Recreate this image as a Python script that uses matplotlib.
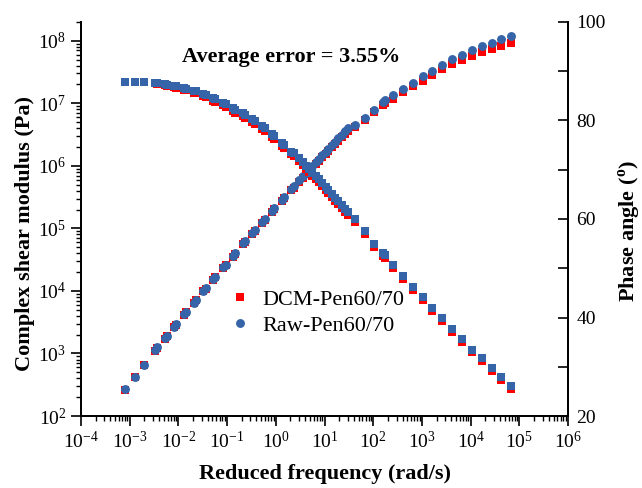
import math
import matplotlib
matplotlib.use("Agg")
import matplotlib.pyplot as plt
from matplotlib.ticker import LogLocator, FixedLocator, MultipleLocator, FuncFormatter, NullFormatter

plt.rcParams["font.family"] = ["Liberation Serif", "DejaVu Serif"]
plt.rcParams["mathtext.fontset"] = "custom"
plt.rcParams["mathtext.rm"] = "Liberation Serif"
plt.rcParams["mathtext.bf"] = "Liberation Serif:bold"

# reduced frequency (rad/s)
freq = [7.9e-4, 1.29e-3, 2.0e-3,
        3.3e-3, 3.7e-3, 5.2e-3, 5.8e-3, 8.3e-3, 9.1e-3, 1.32e-2, 1.45e-2, 2.09e-2, 2.34e-2,
        3.24e-2, 3.63e-2, 5.25e-2, 5.75e-2, 8.3e-2, 9.3e-2,
        0.132, 0.148, 0.209, 0.234, 0.331, 0.372, 0.525, 0.589, 0.832, 0.933, 1.32, 1.48, 2.09, 2.34,
        3.02, 3.55, 4.17, 4.79, 5.62, 6.61, 7.59, 8.91, 10.5, 12.0, 14.1, 16.6, 19.1, 22.4, 26.3, 30.2,
        41.7, 67.6, 105, 162, 178, 257, 407, 646, 1050, 1620, 2570, 4170, 6610, 10500, 17000, 26900,
        42700, 67600]

# complex shear modulus (Pa)
g_raw = [269, 427, 661,
         1122, 1259, 1738, 1905, 2692, 2951, 4266, 4677, 6457, 7244,
         1.00e4, 1.10e4, 1.55e4, 1.70e4, 2.40e4, 2.63e4,
         3.63e4, 4.07e4, 5.75e4, 6.31e4, 8.51e4, 9.55e4, 1.26e5, 1.41e5, 1.91e5, 2.14e5, 2.88e5, 3.16e5,
         4.27e5, 4.68e5,
         5.89e5, 6.76e5, 7.76e5, 8.71e5, 1.00e6, 1.15e6, 1.29e6, 1.48e6, 1.66e6, 1.86e6, 2.14e6, 2.45e6,
         2.75e6, 3.09e6, 3.55e6, 3.98e6,
         4.57e6, 5.89e6, 7.94e6, 1.05e7, 1.12e7, 1.35e7, 1.70e7, 2.14e7, 2.69e7, 3.31e7, 4.17e7, 5.13e7,
         6.03e7, 7.08e7, 8.13e7, 9.33e7, 1.07e8, 1.20e8]
g_dcm = [265, 420, 650,
         1100, 1240, 1710, 1870, 2640, 2900, 4180, 4590, 6330, 7100,
         9800, 1.08e4, 1.52e4, 1.66e4, 2.34e4, 2.57e4,
         3.50e4, 3.93e4, 5.55e4, 6.08e4, 8.20e4, 9.20e4, 1.21e5, 1.35e5, 1.83e5, 2.05e5, 2.75e5, 3.02e5,
         4.07e5, 4.46e5,
         5.60e5, 6.42e5, 7.37e5, 8.25e5, 9.45e5, 1.08e6, 1.21e6, 1.39e6, 1.55e6, 1.73e6, 1.98e6, 2.27e6,
         2.54e6, 2.85e6, 3.26e6, 3.65e6,
         4.18e6, 5.35e6, 7.15e6, 9.35e6, 9.95e6, 1.19e7, 1.49e7, 1.86e7, 2.31e7, 2.82e7, 3.52e7, 4.29e7,
         4.98e7, 5.76e7, 6.53e7, 7.40e7, 8.40e7, 9.25e7]

# phase angle (deg)
ph_raw = [87.8, 87.8, 87.8,
          87.7, 87.6, 87.4, 87.3, 87.0, 86.9, 86.5, 86.4, 86.0, 85.9,
          85.4, 85.2, 84.5, 84.3, 83.6, 83.3,
          82.5, 82.2, 81.5, 81.1, 80.2, 79.9, 78.9, 78.5, 77.2, 76.8, 75.5, 75.1, 73.7, 73.3,
          72.4, 71.6, 70.8, 70.2, 69.4, 68.8, 68.1, 67.3, 66.5, 65.8, 65.0, 64.3, 63.6, 62.9, 62.1, 61.5,
          60.0, 57.6, 55.0, 53.0, 52.6, 50.6, 48.4, 46.2, 44.1, 42.0, 39.8, 37.6, 35.6, 33.5, 31.7, 29.8,
          28.0, 26.1]
ph_dcm = [87.8, 87.8, 87.8,
          87.6, 87.5, 87.2, 87.1, 86.7, 86.6, 86.2, 86.1, 85.6, 85.5,
          85.0, 84.8, 84.0, 83.8, 83.1, 82.8,
          81.9, 81.6, 80.9, 80.5, 79.6, 79.3, 78.3, 77.9, 76.6, 76.2, 74.9, 74.5, 73.1, 72.7,
          71.8, 71.0, 70.2, 69.6, 68.8, 68.2, 67.5, 66.7, 65.9, 65.2, 64.4, 63.7, 63.0, 62.3, 61.5, 60.9,
          59.4, 57.0, 54.4, 52.4, 52.0, 50.0, 47.8, 45.6, 43.5, 41.4, 39.2, 37.0, 35.0, 32.9, 31.1, 29.2,
          27.4, 25.5]

RED = "#ff0000"
BLUE = "#3565a8"

fig = plt.figure(figsize=(6.42, 4.88), dpi=100)
ax = fig.add_axes([0.126, 0.1475, 0.759, 0.8075])
ax2 = ax.twinx()

ax.plot(freq, g_dcm, "s", color=RED, ms=5.8, mew=0, label="DCM-Pen60/70")
ax.plot(freq, g_raw, "o", color=BLUE, ms=6.4, mew=0, label="Raw-Pen60/70")
ax2.plot(freq, ph_dcm, "s", color=RED, ms=5.8, mew=0)
ax2.plot(freq, ph_raw, "s", color=BLUE, ms=5.8, mew=0)

ax.set_xscale("log")
ax.set_yscale("log")
ax.set_xlim(1e-4, 1e6)
ax.set_ylim(1e2, 2e8)
ax2.set_ylim(20, 100)


def pow_fmt(v, pos):
    e = int(round(math.log10(v)))
    return r"$\mathrm{10^{%d}}$" % e


ax.xaxis.set_major_locator(FixedLocator([10.0 ** k for k in range(-4, 7)]))
ax.xaxis.set_major_formatter(FuncFormatter(pow_fmt))
ax.xaxis.set_minor_locator(LogLocator(base=10, subs=range(2, 10), numticks=20))
ax.xaxis.set_minor_formatter(NullFormatter())
ax.yaxis.set_major_locator(FixedLocator([10.0 ** k for k in range(2, 9)]))
ax.yaxis.set_major_formatter(FuncFormatter(pow_fmt))
ax.yaxis.set_minor_locator(LogLocator(base=10, subs=range(2, 10), numticks=20))
ax.yaxis.set_minor_formatter(NullFormatter())

ax2.yaxis.set_major_locator(MultipleLocator(20))
ax2.yaxis.set_minor_locator(MultipleLocator(10))

for a in (ax, ax2):
    a.spines["top"].set_visible(False)
    for s in a.spines.values():
        s.set_linewidth(1.3)

ax.tick_params(which="major", direction="out", length=7, width=1.2, labelsize=14)
ax.tick_params(which="minor", direction="out", length=3.5, width=1.0)
ax.tick_params(axis="y", right=False)
ax2.tick_params(which="major", direction="in", length=7, width=1.2, labelsize=14, pad=6)
ax2.tick_params(which="minor", direction="in", length=7, width=1.2)

# axis titles
ax.text(0.50, -0.147, "Reduced frequency (rad/s)", transform=ax.transAxes,
        ha="center", va="center", fontsize=16, fontweight="bold")
ax.text(-0.115, 0.462, "Complex shear modulus (Pa)", transform=ax.transAxes, rotation=90,
        ha="center", va="center", fontsize=16, fontweight="bold")
ax.text(1.127, 0.47, r"Phase angle ($^\mathbf{o}$)", transform=ax.transAxes, rotation=90,
        ha="center", va="center", fontsize=16, fontweight="bold")

ax.text(0.431, 0.912, "Average error = 3.55%", transform=ax.transAxes, ha="center", va="center",
        fontsize=16, fontweight="bold")

ax.legend(loc="upper left", bbox_to_anchor=(0.285, 0.345), frameon=False, fontsize=16,
          handletextpad=0.5, borderaxespad=0, labelspacing=0.25, handlelength=1.0)

fig.savefig("out.png", dpi=100)
